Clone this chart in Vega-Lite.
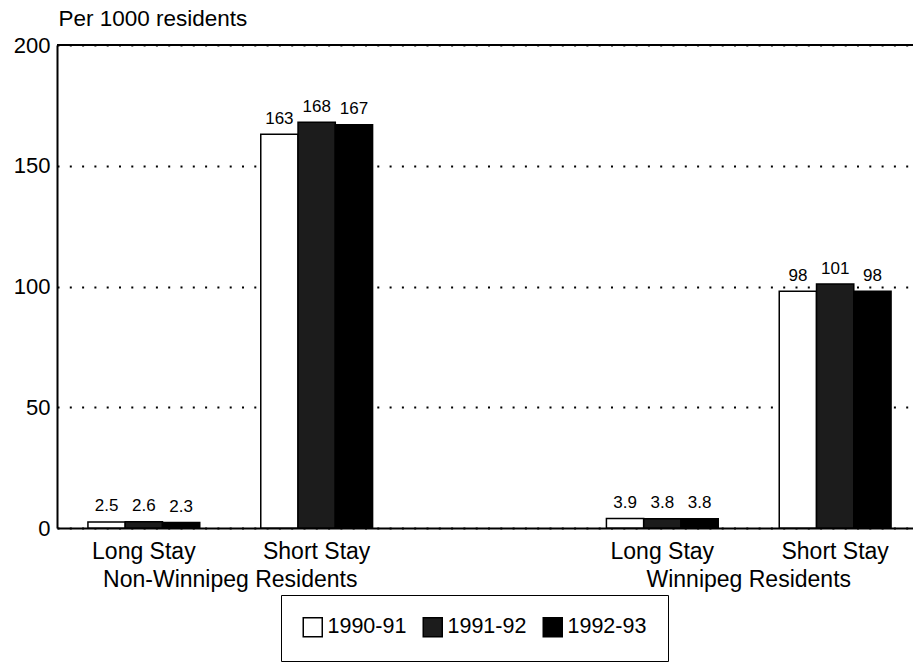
{
  "$schema": "https://vega.github.io/schema/vega-lite/v6.json",
  "width": 856,
  "height": 483,
  "autosize": {"type": "none"},
  "padding": {"left": 57, "top": 45, "right": 0, "bottom": 134},
  "background": "white",
  "config": {
    "font": "Liberation Sans",
    "view": {"stroke": null},
    "axis": {"labelColor": "black", "titleColor": "black", "domainColor": "black", "domainWidth": 2, "ticks": false, "labelFont": "Liberation Sans", "titleFont": "Liberation Sans"}
  },
  "data": {
    "values": [
      {"slot": "Long Stay|NW", "year": "1990-91", "rate": 2.5},
      {"slot": "Long Stay|NW", "year": "1991-92", "rate": 2.6},
      {"slot": "Long Stay|NW", "year": "1992-93", "rate": 2.3},
      {"slot": "Short Stay|NW", "year": "1990-91", "rate": 163},
      {"slot": "Short Stay|NW", "year": "1991-92", "rate": 168},
      {"slot": "Short Stay|NW", "year": "1992-93", "rate": 167},
      {"slot": "Long Stay|W", "year": "1990-91", "rate": 3.9},
      {"slot": "Long Stay|W", "year": "1991-92", "rate": 3.8},
      {"slot": "Long Stay|W", "year": "1992-93", "rate": 3.8},
      {"slot": "Short Stay|W", "year": "1990-91", "rate": 98},
      {"slot": "Short Stay|W", "year": "1991-92", "rate": 101},
      {"slot": "Short Stay|W", "year": "1992-93", "rate": 98}
    ]
  },
  "layer": [
    {
      "mark": {"type": "bar", "stroke": "black", "strokeWidth": 1.5},
      "encoding": {
        "x": {
          "field": "slot", "type": "nominal",
          "scale": {"domain": ["Long Stay|NW", "Short Stay|NW", "gap", "Long Stay|W", "Short Stay|W"], "range": [0, 865], "paddingInner": 0.353, "paddingOuter": 0.179},
          "axis": {"title": null, "labelAngle": 0, "labelFontSize": 23, "labelPadding": 12, "labelExpr": "datum.value == 'gap' ? '' : split(datum.value, '|')[0]"}
        },
        "xOffset": {"field": "year", "type": "nominal", "sort": ["1990-91", "1991-92", "1992-93"], "scale": {"paddingInner": 0, "paddingOuter": 0}},
        "y": {
          "field": "rate", "type": "quantitative",
          "scale": {"domain": [0, 200], "nice": false},
          "axis": {
            "values": [0, 50, 100, 150, 200],
            "title": "Per 1000 residents", "titleAngle": 0, "titleAlign": "left", "titleBaseline": "alphabetic", "titleX": 1, "titleY": -20, "titleFontSize": 22.5, "titleFontWeight": "normal",
            "labelFontSize": 22, "labelPadding": 7,
            "grid": true, "gridColor": "black", "gridDash": [2, 10.3], "gridWidth": 2, "gridOpacity": 1
          }
        },
        "fill": {
          "field": "year", "type": "nominal",
          "scale": {"domain": ["1990-91", "1991-92", "1992-93"], "range": ["white", "#1c1c1c", "black"]},
          "legend": {
            "title": null, "orient": "none", "direction": "horizontal", "legendX": 224, "legendY": 550,
            "strokeColor": "black", "padding": 21, "fillColor": "white",
            "symbolType": "square", "symbolSize": 361, "symbolStrokeColor": "black", "symbolStrokeWidth": 1.5,
            "labelFontSize": 21.5, "labelFont": "Liberation Sans", "labelColor": "black", "labelOffset": 4, "columnPadding": 13
          }
        }
      }
    },
    {
      "mark": {"type": "text", "fontSize": 17, "baseline": "alphabetic", "dy": -10.5, "color": "black"},
      "encoding": {
        "x": {"field": "slot", "type": "nominal"},
        "xOffset": {"field": "year", "type": "nominal", "sort": ["1990-91", "1991-92", "1992-93"]},
        "y": {"field": "rate", "type": "quantitative"},
        "text": {"field": "rate", "type": "quantitative", "format": "~g"}
      }
    },
    {
      "data": {"values": [{"top": 200}]},
      "mark": {"type": "rule", "color": "black", "strokeWidth": 2},
      "encoding": {"y": {"field": "top", "type": "quantitative"}}
    },
    {
      "data": {"values": [{"slot": "Long Stay|NW", "group": "Non-Winnipeg Residents"}, {"slot": "Long Stay|W", "group": "Winnipeg Residents"}]},
      "mark": {"type": "text", "fontSize": 23, "baseline": "alphabetic", "align": "center", "color": "black", "y": {"expr": "height + 59"}},
      "encoding": {
        "x": {"field": "slot", "type": "nominal", "bandPosition": 1.273},
        "text": {"field": "group"}
      }
    }
  ]
}
